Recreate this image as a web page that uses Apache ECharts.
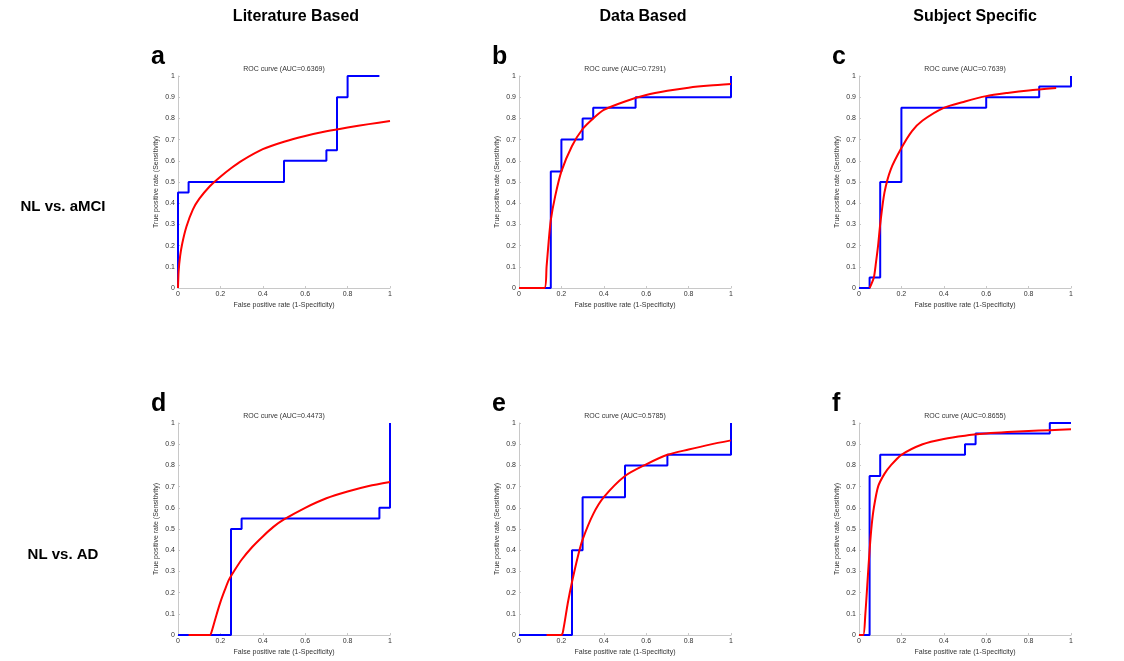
<!DOCTYPE html>
<html>
<head>
<meta charset="utf-8">
<script src="https://cdn.jsdelivr.net/npm/echarts@6/dist/echarts.min.js"></script>
<style>
html,body{margin:0;padding:0;background:#fff;}
#main{width:1124px;height:661px;}
</style>
</head>
<body>
<div id="main"></div>
<script>
// ---- data ----
const columnHeaders = ['Literature Based', 'Data Based', 'Subject Specific'];
const rowLabels = ['NL vs. aMCI', 'NL vs. AD'];
const panelLetters = ['a', 'b', 'c', 'd', 'e', 'f'];
const aucValues = ['0.6369', '0.7291', '0.7639', '0.4473', '0.5785', '0.8655'];
const xTickStep = 0.2;
const yTickStep = 0.1;

// empirical ROC (blue step curves)
const rocA = [[0,0],[0,0.45],[0.05,0.45],[0.05,0.5],[0.5,0.5],[0.5,0.6],[0.7,0.6],[0.7,0.65],[0.75,0.65],[0.75,0.9],[0.8,0.9],[0.8,1],[0.95,1]];
const rocB = [[0,0],[0.15,0],[0.15,0.55],[0.2,0.55],[0.2,0.7],[0.3,0.7],[0.3,0.8],[0.35,0.8],[0.35,0.85],[0.55,0.85],[0.55,0.9],[1,0.9],[1,1]];
const rocC = [[0,0],[0.05,0],[0.05,0.05],[0.1,0.05],[0.1,0.5],[0.2,0.5],[0.2,0.85],[0.6,0.85],[0.6,0.9],[0.85,0.9],[0.85,0.95],[1,0.95],[1,1]];
const rocD = [[0,0],[0.25,0],[0.25,0.5],[0.3,0.5],[0.3,0.55],[0.95,0.55],[0.95,0.6],[1,0.6],[1,1]];
const rocE = [[0,0],[0.25,0],[0.25,0.4],[0.3,0.4],[0.3,0.65],[0.5,0.65],[0.5,0.8],[0.7,0.8],[0.7,0.85],[1,0.85],[1,1]];
const rocF = [[0,0],[0.05,0],[0.05,0.75],[0.1,0.75],[0.1,0.85],[0.5,0.85],[0.5,0.9],[0.55,0.9],[0.55,0.95],[0.9,0.95],[0.9,1],[1,1]];

// fitted ROC (red smooth curves)
const fitA = [[0,0],[0.003,0.08],[0.01,0.15],[0.02,0.21],[0.04,0.29],[0.07,0.37],[0.1,0.42],[0.15,0.48],[0.2,0.525],[0.25,0.565],[0.3,0.6],[0.4,0.655],[0.5,0.69],[0.6,0.717],[0.7,0.739],[0.8,0.757],[0.9,0.773],[1,0.788]];
const fitB = [[0,0],[0.12,0],[0.13,0.1],[0.14,0.22],[0.15,0.32],[0.17,0.43],[0.2,0.55],[0.25,0.67],[0.3,0.75],[0.35,0.8],[0.4,0.84],[0.5,0.88],[0.6,0.91],[0.7,0.93],[0.8,0.945],[0.9,0.955],[1,0.962]];
const fitC = [[0.05,0],[0.07,0.05],[0.08,0.12],[0.09,0.2],[0.1,0.3],[0.12,0.45],[0.15,0.56],[0.2,0.66],[0.25,0.74],[0.3,0.79],[0.4,0.85],[0.5,0.88],[0.6,0.905],[0.7,0.92],[0.8,0.932],[0.93,0.943]];
const fitD = [[0.05,0],[0.15,0],[0.16,0.02],[0.18,0.09],[0.2,0.155],[0.22,0.21],[0.24,0.26],[0.27,0.31],[0.3,0.355],[0.35,0.415],[0.4,0.465],[0.45,0.51],[0.5,0.545],[0.6,0.6],[0.7,0.645],[0.8,0.677],[0.9,0.703],[1,0.722]];
const fitE = [[0.13,0],[0.2,0],[0.21,0.03],[0.23,0.15],[0.25,0.25],[0.28,0.38],[0.3,0.45],[0.35,0.57],[0.4,0.65],[0.5,0.75],[0.6,0.805],[0.7,0.85],[0.8,0.875],[0.9,0.898],[1,0.918]];
const fitF = [[0,0],[0.02,0],[0.03,0.1],[0.04,0.25],[0.05,0.4],[0.06,0.52],[0.07,0.6],[0.09,0.7],[0.12,0.76],[0.15,0.8],[0.2,0.85],[0.3,0.9],[0.4,0.925],[0.5,0.94],[0.6,0.95],[0.7,0.957],[0.8,0.962],[0.9,0.966],[1,0.97]];

const rocSets = [rocA, rocB, rocC, rocD, rocE, rocF];
const fitSets = [fitA, fitB, fitC, fitD, fitE, fitF];

// ---- layout ----
const colLeft = [178, 519, 859];
const rowTop = [76, 423];
const plotW = 212, plotH = 212;
const FONT = '"Liberation Sans", Arial, sans-serif';

const grids = [], xAxes = [], yAxes = [], series = [], titles = [];
for (let i = 0; i < 6; i++) {
  const r = Math.floor(i / 3), c = i % 3;
  grids.push({left: colLeft[c], top: rowTop[r], width: plotW, height: plotH, containLabel: false});
  xAxes.push({
    type: 'value', gridIndex: i, min: 0, max: 1, interval: xTickStep,
    name: 'False positive rate (1-Specificity)', nameLocation: 'middle', nameGap: 14,
    nameTextStyle: {fontFamily: FONT, fontSize: 7, color: '#333'},
    axisLine: {show: true, lineStyle: {color: '#c8c8c8', width: 1}},
    axisTick: {show: true, inside: true, length: 2, lineStyle: {color: '#c8c8c8'}},
    axisLabel: {fontFamily: FONT, fontSize: 7, color: '#333', margin: 3,
      formatter: v => String(Math.round(v * 10) / 10)},
    splitLine: {show: false}
  });
  yAxes.push({
    type: 'value', gridIndex: i, min: 0, max: 1, interval: yTickStep,
    name: 'True positive rate (Sensitivity)', nameLocation: 'middle', nameGap: 18, nameRotate: 90,
    nameTextStyle: {fontFamily: FONT, fontSize: 7, color: '#333'},
    axisLine: {show: true, lineStyle: {color: '#c8c8c8', width: 1}},
    axisTick: {show: true, inside: true, length: 2, lineStyle: {color: '#c8c8c8'}},
    axisLabel: {fontFamily: FONT, fontSize: 7, color: '#333', margin: 3,
      formatter: v => String(Math.round(v * 10) / 10)},
    splitLine: {show: false}
  });
  series.push({
    type: 'line', xAxisIndex: i, yAxisIndex: i, data: rocSets[i], showSymbol: false,
    lineStyle: {color: '#0000ff', width: 2}, z: 2, animation: false
  });
  series.push({
    type: 'line', xAxisIndex: i, yAxisIndex: i, data: fitSets[i], showSymbol: false,
    smooth: 0.25,
    lineStyle: {color: '#ff0000', width: 2}, z: 3, animation: false
  });
  titles.push({
    text: 'ROC curve (AUC=' + aucValues[i] + ')',
    left: colLeft[c] + plotW / 2 - 5, top: rowTop[r] - 15, textAlign: 'center',
    textStyle: {fontFamily: FONT, fontSize: 7, fontWeight: 'normal', color: '#333'}
  });
  titles.push({
    text: panelLetters[i], left: colLeft[c] - 32, top: rowTop[r] - 36,
    textStyle: {fontFamily: FONT, fontSize: 25, fontWeight: 'bold', color: '#000'}
  });
}
const headerCenters = [291, 638, 970];
for (let c = 0; c < 3; c++) {
  titles.push({
    text: columnHeaders[c], left: headerCenters[c], top: 4, textAlign: 'center',
    textStyle: {fontFamily: FONT, fontSize: 16, fontWeight: 'bold', color: '#000'}
  });
}
const rowCenters = [203, 551];
for (let r = 0; r < 2; r++) {
  titles.push({
    text: rowLabels[r], left: 58, top: rowCenters[r] - 9, textAlign: 'center',
    textStyle: {fontFamily: FONT, fontSize: 15, fontWeight: 'bold', color: '#000'}
  });
}

const chart = echarts.init(document.getElementById('main'), null, {renderer: 'canvas'});
chart.setOption({
  backgroundColor: '#ffffff',
  animation: false,
  title: titles,
  grid: grids,
  xAxis: xAxes,
  yAxis: yAxes,
  series: series
});
</script>
</body>
</html>
